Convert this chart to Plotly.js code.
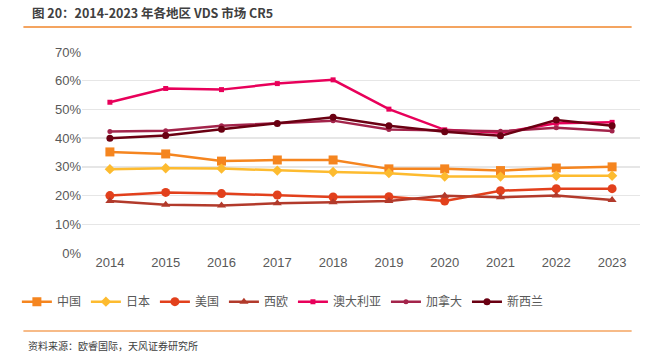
<!DOCTYPE html>
<html><head><meta charset="utf-8">
<script src="https://cdn.plot.ly/plotly-3.0.1.min.js"></script>
<style>body{margin:0;background:#fff;}#c{width:649px;height:361px;}</style>
</head><body><div id="c"></div>
<script>
const years = [2014,2015,2016,2017,2018,2019,2020,2021,2022,2023];
const china = [35.2,34.5,32.0,32.4,32.4,29.3,29.3,28.7,29.6,30.0];
const japan = [29.2,29.5,29.4,28.7,28.2,27.8,26.6,26.6,26.9,26.9];
const usa = [20.0,21.1,20.7,20.2,19.5,19.6,18.1,21.7,22.4,22.4];
const weurope = [18.1,16.8,16.5,17.3,17.7,18.1,19.9,19.4,20.0,18.5];
const australia = [52.5,57.3,56.9,59.0,60.3,50.1,42.9,41.9,45.2,45.5];
const canada = [42.3,42.6,44.3,45.2,46.1,43.0,42.6,42.4,43.6,42.5];
const newzealand = [40.0,40.9,43.1,45.1,47.3,44.3,42.2,40.8,46.3,44.3];
const names = ['中国','日本','美国','西欧','澳大利亚','加拿大','新西兰'];
const yTicks = [0,10,20,30,40,50,60,70];

const series = [china,japan,usa,weurope,australia,canada,newzealand];
const colors = ['#F5851F','#FDBB2F','#E2401C','#B23A2B','#E8005A','#A3244B','#6A0012'];
const symbols = ['square','diamond','circle','triangle-up','square','circle','circle'];
const sizes = [9,8,9,8,5,5,7];

const traces = series.map((s,i)=>({
  x: years, y: s.map(v=>v/100), name: names[i], type:'scatter', mode:'lines+markers',
  line:{color:colors[i], width:2.5}, marker:{color:colors[i], symbol:symbols[i], size:sizes[i]}
}));

const layout = {
  width:649, height:361, paper_bgcolor:'#fff', plot_bgcolor:'#fff',
  margin:{l:82, r:9, t:52, b:108},
  font:{family:'"Noto Sans CJK SC", "Liberation Sans", sans-serif', color:'#595959', size:13},
  xaxis:{range:[2013.5,2023.5], tickvals:years, ticktext:years.map(String), showgrid:false, zeroline:false,
    showline:false, ticks:'', tickfont:{size:13, color:'#595959', family:'"Liberation Sans", sans-serif'}},
  yaxis:{range:[0,0.7], tickvals:yTicks.map(v=>v/100), ticktext:yTicks.map(v=>v+'%'), gridcolor:'#E6E6E6', gridwidth:1.5,
    zeroline:false, ticks:'', tickfont:{size:13, color:'#595959', family:'"Liberation Sans", sans-serif'}},
  showlegend:true,
  legend:{orientation:'h', x:0.36, xanchor:'center', y:-0.17, yanchor:'top', font:{size:12, color:'#595959'},
    itemwidth:30, tracegroupgap:0},
  shapes:[
    {type:'line', xref:'paper', yref:'paper', x0:-0.105, x1:0.985, y0:1.125, y1:1.125, line:{color:'#F4A460', width:2}},
    {type:'line', xref:'paper', yref:'paper', x0:-0.105, x1:0.985, y0:-0.388, y1:-0.388, line:{color:'#F4A460', width:1.5}}
  ],
  annotations:[
    {text:'<b>图 20：2014-2023 年各地区 VDS 市场 CR5</b>', xref:'paper', yref:'paper', x:-0.093, y:1.195, xanchor:'left', yanchor:'middle',
      showarrow:false, font:{size:12.5, color:'#404040', family:'"Noto Sans CJK SC", sans-serif'}},
    {text:'资料来源：欧睿国际，天风证券研究所', xref:'paper', yref:'paper', x:-0.1, y:-0.458, xanchor:'left', yanchor:'middle',
      showarrow:false, font:{size:10, color:'#404040', family:'"Noto Sans CJK SC", sans-serif'}}
  ]
};
Plotly.newPlot('c', traces, layout, {displayModeBar:false, staticPlot:true});
</script></body></html>
